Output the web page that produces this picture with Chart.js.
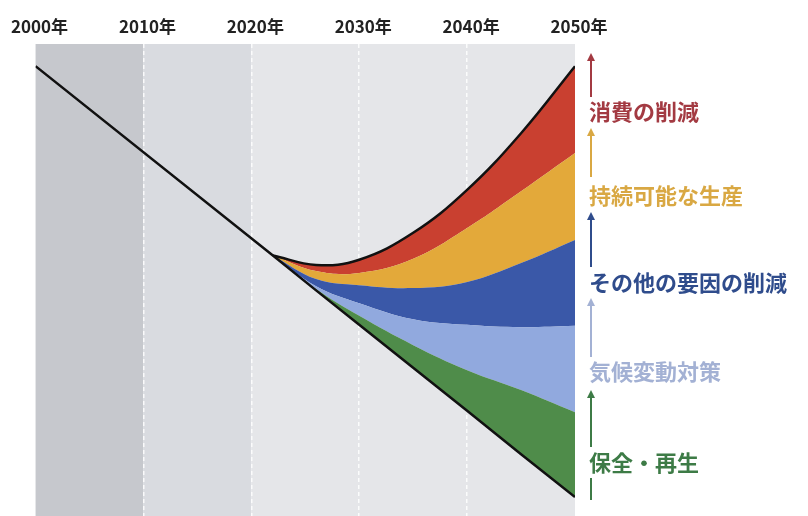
<!DOCTYPE html>
<html>
<head>
<meta charset="utf-8">
<script src="https://cdn.jsdelivr.net/npm/chart.js@4.4.1/dist/chart.umd.min.js"></script>
<style>
  body { margin: 0; background: #fff; }
  #wrap { width: 808px; height: 516px; position: relative; }
</style>
</head>
<body>
<div id="wrap"><canvas id="chart"></canvas></div>
<script>
// years on the top axis
const tickYears = [2000, 2010, 2020, 2030, 2040, 2050];
const trendYears = [2000, 2022, 2026, 2030, 2035, 2040, 2045, 2050];
const bandYears = [2022, 2026, 2030, 2035, 2040, 2045, 2050];

// straight business-as-usual line
const trend = [95.3, 55.2, 47.8, 40.5, 31.4, 22.3, 13.1, 4.0];
// cumulative tops of each band
const conservationTop = [55.2, 48.1, 42.4, 36.2, 30.9, 26.7, 22.0];
const climateTop = [55.2, 48.7, 45.1, 41.7, 40.5, 40.0, 40.3];
const otherTop = [55.2, 50.2, 48.9, 48.3, 49.6, 53.6, 58.5];
const productionTop = [55.2, 51.9, 51.5, 54.5, 61.0, 68.8, 76.9];
const consumptionTop = [55.2, 53.2, 54.3, 60.0, 69.1, 81.1, 95.3];

const labels = ['消費の削減', '持続可能な生産', 'その他の要因の削減', '気候変動対策', '保全・再生'];
const labelColors = ['#a33a42', '#d9a843', '#2f4c8c', '#a3b1d4', '#3d7b46'];
const bandColors = ['#4f8c4a', '#91a9de', '#3a58a8', '#e3a93a', '#c94030'];

function pts(years, vals) {
    return years.map((y, i) => ({x: y, y: vals[i]}));
}

const FONT = '"Noto Sans CJK JP", "Noto Sans", sans-serif';

const backdrop = {
    id: 'backdrop',
    beforeDraw(chart) {
        const {ctx, chartArea, scales} = chart;
        const x = scales.x;
        const shades = [[2000, 2010, '#c6c8cd'], [2010, 2020, '#d9dbe0'], [2020, 2050, '#e5e6e9']];
        ctx.save();
        shades.forEach(s => {
            const x0 = x.getPixelForValue(s[0]);
            const x1 = x.getPixelForValue(s[1]);
            ctx.fillStyle = s[2];
            ctx.fillRect(x0, chartArea.top, x1 - x0, chartArea.bottom - chartArea.top);
        });
        ctx.restore();
    }
};

// arrows + labels on the right
const sideLabels = {
    id: 'sideLabels',
    afterDraw(chart) {
        const ctx = chart.ctx;
        const ax = 591;
        const arrows = [[97, 53], [177, 128], [267, 212], [357, 298], [447, 390]];
        const textY = [112, 196, 283, 372, 463];
        ctx.save();
        arrows.forEach((a, i) => {
            ctx.strokeStyle = labelColors[i];
            ctx.fillStyle = labelColors[i];
            ctx.lineWidth = 2;
            ctx.beginPath();
            ctx.moveTo(ax, a[0]);
            ctx.lineTo(ax, a[1] + 6);
            ctx.stroke();
            ctx.beginPath();
            ctx.moveTo(ax, a[1]);
            ctx.lineTo(ax - 4, a[1] + 8);
            ctx.lineTo(ax + 4, a[1] + 8);
            ctx.closePath();
            ctx.fill();
            ctx.font = 'bold 22px ' + FONT;
            ctx.textAlign = 'left';
            ctx.textBaseline = 'middle';
            ctx.fillText(labels[i], 589, textY[i]);
        });
        ctx.strokeStyle = labelColors[4];
        ctx.lineWidth = 2;
        ctx.beginPath();
        ctx.moveTo(ax, 478);
        ctx.lineTo(ax, 500);
        ctx.stroke();
        ctx.restore();
    }
};

function band(vals, color, target) {
    return {
        data: pts(bandYears, vals),
        borderWidth: 0,
        backgroundColor: color,
        fill: target,
        tension: 0.4,
        pointRadius: 0
    };
}

const upper = band(consumptionTop, bandColors[4], 4);
upper.borderWidth = 2.5;
upper.borderColor = '#111';

new Chart(document.getElementById('chart'), {
    type: 'line',
    data: {
        datasets: [
            {
                data: pts(trendYears, trend),
                borderColor: '#111',
                borderWidth: 2.5,
                fill: false,
                tension: 0,
                pointRadius: 0
            },
            band(conservationTop, bandColors[0], 0),
            band(climateTop, bandColors[1], 1),
            band(otherTop, bandColors[2], 2),
            band(productionTop, bandColors[3], 3),
            upper
        ]
    },
    options: {
        responsive: true,
        maintainAspectRatio: false,
        animation: false,
        layout: { padding: { left: 35, right: 233, top: 0, bottom: 0 } },
        plugins: {
            legend: { display: false },
            tooltip: { enabled: false },
            filler: { drawTime: 'beforeDatasetsDraw' }
        },
        scales: {
            x: {
                type: 'linear',
                position: 'top',
                min: 2000,
                max: 2050,
                afterFit: s => { s.height = 44; },
                afterBuildTicks: s => { s.ticks = tickYears.map(v => ({value: v})); },
                ticks: {
                    callback: v => v + '年',
                    color: '#222',
                    font: { family: FONT, size: 17, weight: 'bold' },
                    padding: 7,
                    labelOffset: 4,
                    maxRotation: 0
                },
                border: { display: false, dash: [4, 3] },
                grid: {
                    drawTicks: false,
                    lineWidth: 1.5,
                    color: c => (c.tick && (c.tick.value === 2000 || c.tick.value === 2050)) ? 'rgba(0,0,0,0)' : 'rgba(255,255,255,0.85)'
                }
            },
            y: {
                display: false,
                min: 0,
                max: 100
            }
        }
    },
    plugins: [backdrop, sideLabels]
});
</script>
</body>
</html>
